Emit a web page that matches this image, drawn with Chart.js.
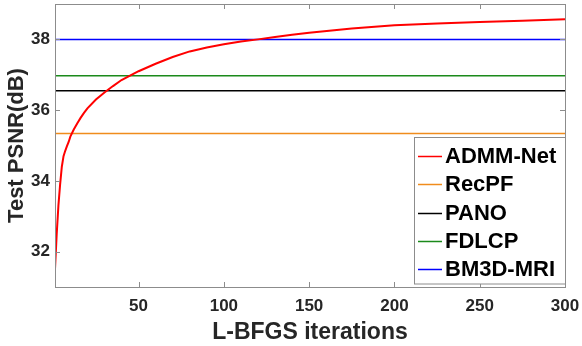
<!DOCTYPE html>
<html><head><meta charset="utf-8">
<script src="https://cdn.jsdelivr.net/npm/chart.js@4/dist/chart.umd.min.js"></script>
<style>html,body{margin:0;padding:0;background:#fff}#wrap{width:582px;height:346px}</style>
</head><body><div id="wrap"><canvas id="c" width="582" height="346"></canvas></div>
<script>
const iterations = [1,2,3,4,5,6,7,8,9,10,12,14,16,18,20,25,30,35,40,50,60,70,80,90,100,110,120,130,140,150,175,200,225,250,275,300];
const admmNet = [31.5,32.5,33.3,33.9,34.4,34.7,34.85,34.98,35.1,35.25,35.45,35.62,35.78,35.92,36.05,36.3,36.5,36.68,36.85,37.1,37.31,37.5,37.66,37.77,37.86,37.94,38.0,38.07,38.13,38.19,38.31,38.40,38.45,38.49,38.53,38.57];
const recPF = 35.34;
const pano = 36.55;
const fdlcp = 36.97;
const bm3dMri = 38.0;
const xTicks = [50,100,150,200,250,300];
const yTicks = [32,34,36,38];
const labels = ['ADMM-Net','RecPF','PANO','FDLCP','BM3D-MRI'];
const colors = ['#ff0000','#f08c1c','#000000','#1b8a1b','#0000ff'];

const flat = v => [{x:iterations[0],y:v},{x:iterations[iterations.length-1],y:v}];
const datasets = [
  {label:labels[0], data: iterations.map((x,i)=>({x, y: admmNet[i]})), borderColor:colors[0], borderWidth:2, order:0},
  {label:labels[1], data: flat(recPF), borderColor:colors[1], borderWidth:1.5, order:1},
  {label:labels[2], data: flat(pano), borderColor:colors[2], borderWidth:1.5, order:2},
  {label:labels[3], data: flat(fdlcp), borderColor:colors[3], borderWidth:1.5, order:3},
  {label:labels[4], data: flat(bm3dMri), borderColor:colors[4], borderWidth:1.5, order:4}
];

const FONT = '"Liberation Sans", Arial, sans-serif';
const boxPlugin = {
  id:'box',
  afterDatasetsDraw(chart){
    const {ctx, chartArea:a, scales:{x,y}} = chart;
    ctx.save();
    ctx.strokeStyle = '#8c8c8c'; ctx.lineWidth = 1;
    ctx.strokeRect(Math.round(a.left)+0.5, Math.round(a.top)+0.5, Math.round(a.right-a.left), Math.round(a.bottom-a.top));
    ctx.beginPath();
    const tl = 5;
    x.ticks.forEach(t=>{const px=Math.round(x.getPixelForValue(t.value))+0.5;
      ctx.moveTo(px,a.bottom); ctx.lineTo(px,a.bottom-tl); ctx.moveTo(px,a.top); ctx.lineTo(px,a.top+tl);});
    y.ticks.forEach(t=>{const py=Math.round(y.getPixelForValue(t.value))+0.5;
      ctx.moveTo(a.left,py); ctx.lineTo(a.left+tl,py); ctx.moveTo(a.right,py); ctx.lineTo(a.right-tl,py);});
    ctx.stroke();
    // legend
    const lx = 414.5, ly = 137.5, lw = 151, lh = 146.5;
    ctx.fillStyle = '#fff'; ctx.fillRect(lx,ly,lw,lh);
    ctx.strokeStyle = '#8c8c8c'; ctx.strokeRect(lx,ly,lw,lh);
    ctx.font = 'bold 22px ' + FONT;
    ctx.textBaseline = 'middle'; ctx.textAlign='left';
    chart.data.datasets.forEach((d,i)=>{
      const cy = 156 + i*28.3;
      ctx.strokeStyle = d.borderColor; ctx.lineWidth = 1.5;
      ctx.beginPath(); ctx.moveTo(418, Math.round(cy)+0.5); ctx.lineTo(442, Math.round(cy)+0.5); ctx.stroke();
      ctx.fillStyle = '#000'; ctx.fillText(d.label, 445, cy+1);
    });
    ctx.restore();
  }
};

new Chart(document.getElementById('c'), {
  type:'line',
  data:{datasets},
  options:{
    responsive:false, animation:false, devicePixelRatio:1,
    layout:{padding:{top:4, right:17, left:4, bottom:0}},
    elements:{point:{radius:0}, line:{tension:0}},
    plugins:{legend:{display:false}, tooltip:{enabled:false}},
    scales:{
      x:{type:'linear', min:1, max:300,
        afterBuildTicks: s => { s.ticks = xTicks.map(v=>({value:v})); },
        afterFit: s => { s.height = 59; s.paddingLeft = 0; s.paddingRight = 0; },
        grid:{display:false, drawTicks:false}, border:{display:false},
        ticks:{font:{family:FONT, size:17, weight:'bold'}, color:'#262626', padding:9, maxRotation:0},
        title:{display:true, text:'L-BFGS iterations', font:{family:FONT, size:23, weight:'bold'}, color:'#262626', padding:{top:1,bottom:0}}
      },
      y:{type:'linear', min:31, max:39,
        afterBuildTicks: s => { s.ticks = yTicks.map(v=>({value:v})); },
        afterFit: s => { s.width = 51; s.paddingTop = 0; s.paddingBottom = 0; },
        grid:{display:false, drawTicks:false}, border:{display:false},
        ticks:{font:{family:FONT, size:17, weight:'bold'}, color:'#262626', padding:5},
        title:{display:true, text:'Test PSNR(dB)', font:{family:FONT, size:22, weight:'bold'}, color:'#262626', padding:{top:0,bottom:0}}
      }
    }
  },
  plugins:[boxPlugin]
});
</script></body></html>
